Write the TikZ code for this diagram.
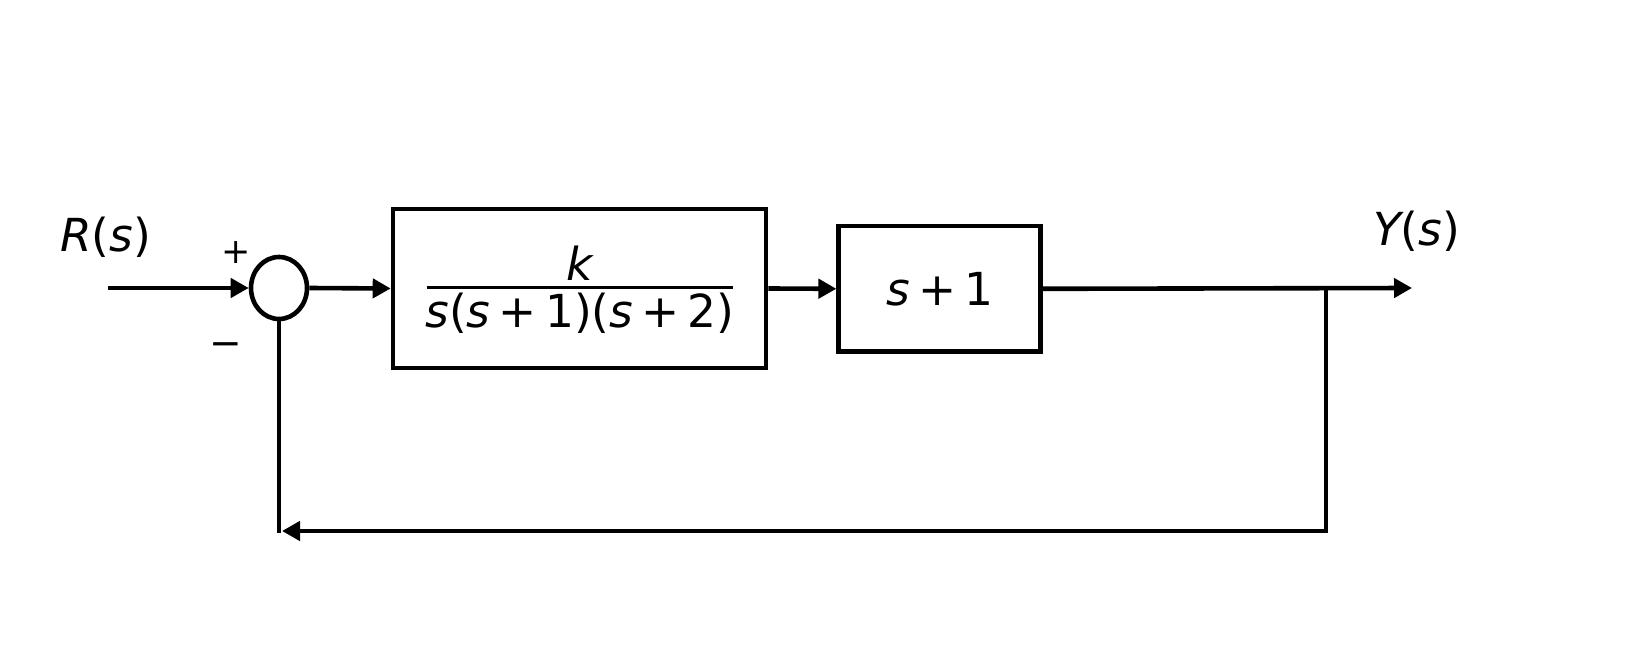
\documentclass[tikz,border=0pt]{standalone}
\usepackage{fontspec}
\setmainfont{DejaVu Sans}
\usetikzlibrary{arrows.meta,shapes.geometric}
\newcommand{\vv}[1]{{\itshape #1}}
\newcommand{\ms}{\hspace{0.18em}}
\begin{document}
\begin{tikzpicture}[x=1pt,y=-1pt,
  wire/.style={line width=4.6pt},
  arr/.style={wire,-{Triangle[length=18pt,width=19pt]}},
  blk/.style={draw,line width=4.6pt,inner sep=0pt},
  lbl/.style={inner sep=0pt,font=\fontsize{45.5}{54}\selectfont},
  sgn/.style={inner sep=0pt,font=\fontsize{35}{42}\selectfont}]
\useasboundingbox (0,0) rectangle (1628,668);
\node[draw,ellipse,line width=4.6pt,minimum width=56pt,minimum height=62pt,inner sep=0pt] (sum) at (279,288) {};
\node[blk,minimum width=373pt,minimum height=159pt] (g1) at (579.5,288.5) {};
\node[blk,minimum width=201.6pt,minimum height=125.7pt] (g2) at (939.5,288.8) {};
\node[lbl] (num) at (580,263) {\vv{k}};
\node[lbl] (den) at (580,313) {\vv{s}(\vv{s}\ms+\ms1)(\vv{s}\ms+\ms2)};
\draw[line width=2.2pt] (426.7,287.6) coordinate (barL) -- (733,287.6) coordinate (barR);
\node[lbl] (g2t) at (940,289) {\vv{s}\ms+\ms1};
\node[lbl] (R) at (105.5,237) {\vv{R}(\vv{s})};
\node[lbl] (Y) at (1416.5,231) {\vv{Y}(\vv{s})};
\node[sgn] (plus) at (236,253) {+};
\node[sgn,font=\fontsize{39}{46}\selectfont] (minus) at (226,350) {−};
\coordinate (in) at (108,288);
\coordinate (out) at (1412,288);
\coordinate (tap) at (1326,288);
\coordinate (br) at (1326,531);
\coordinate (bl) at (282,531);
\coordinate (blv) at (279,533);
\draw[arr] (in) -- (sum.west);
\draw[arr] (sum.east) -- (g1.west);
\draw[arr] (g1.east) -- (g2.west);
\draw[arr] (g2.east) -- (out);
\draw[arr] (tap) -- (br) -- (bl);
\draw[wire] (sum.south) -- (blv);
\end{tikzpicture}
\end{document}
